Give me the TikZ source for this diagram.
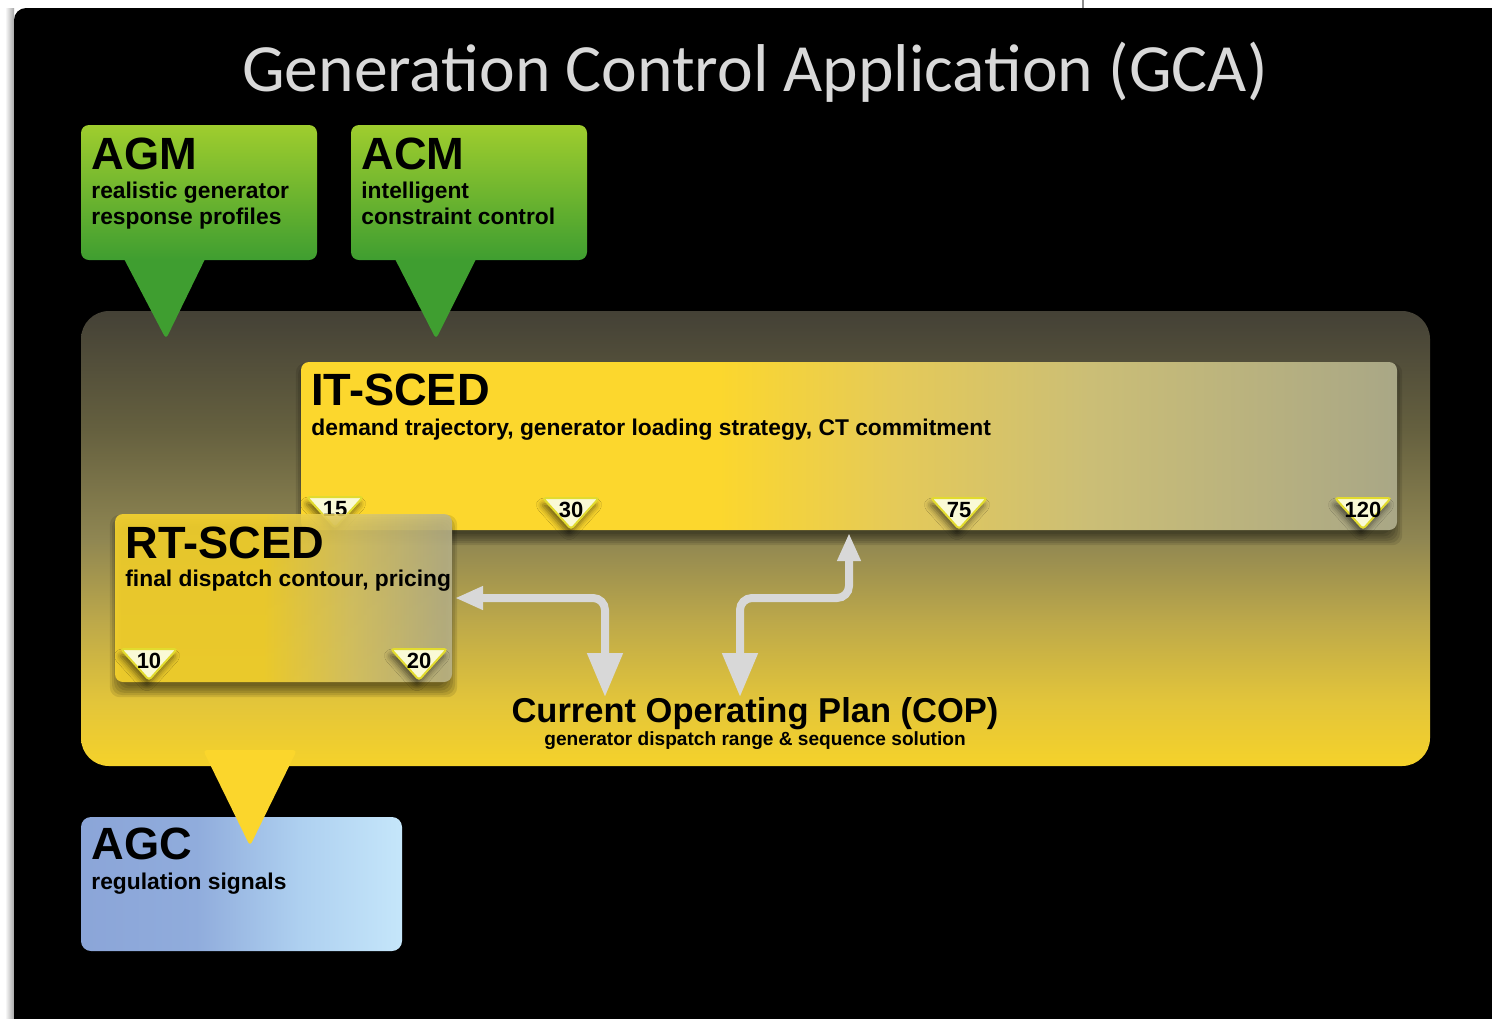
\documentclass[tikz,border=0pt]{standalone}
\usepackage{fontspec}
\setmainfont{Liberation Sans}
\newfontfamily\titlefont{Carlito}
\usetikzlibrary{arrows.meta,shadows.blur,calc}

\definecolor{titlegray}{HTML}{D9D9D9}
\definecolor{gTop}{HTML}{9FCD2E}
\definecolor{gBot}{HTML}{3F9E30}
\definecolor{bbA}{HTML}{F5D22A}
\definecolor{bbB}{HTML}{E3C53A}
\definecolor{bbC}{HTML}{BCA84A}
\definecolor{bbD}{HTML}{8F8652}
\definecolor{bbE}{HTML}{65603F}
\definecolor{bbF}{HTML}{444136}
\definecolor{itA}{HTML}{FCD72D}
\definecolor{itB}{HTML}{E5CA58}
\definecolor{itC}{HTML}{CBBE76}
\definecolor{itD}{HTML}{A9A786}
\definecolor{rtA}{HTML}{FCD82D}
\definecolor{rtB}{HTML}{DFCB66}
\definecolor{rtC}{HTML}{BBB58B}
\definecolor{agA}{HTML}{8BA5D8}
\definecolor{agB}{HTML}{90ACDC}
\definecolor{agC}{HTML}{AED0F0}
\definecolor{agD}{HTML}{C5E6FA}
\definecolor{ptrY}{HTML}{FBD62C}
\definecolor{mkFill}{HTML}{FAFAD6}
\definecolor{mkLine}{HTML}{E2DB2E}
\definecolor{arrGray}{HTML}{D8D8D8}

\pgfdeclareverticalshading{bigboxsh}{100bp}{color(0bp)=(bbA); color(25bp)=(bbA); color(32bp)=(bbB); color(41bp)=(bbC); color(50bp)=(bbD); color(62bp)=(bbE); color(75bp)=(bbF); color(100bp)=(bbF)}
\pgfdeclarehorizontalshading{itscedsh}{100bp}{color(0bp)=(itA); color(25bp)=(itA); color(44bp)=(itA); color(52bp)=(itB); color(61bp)=(itC); color(75bp)=(itD); color(100bp)=(itD)}
\pgfdeclarehorizontalshading{rtscedsh}{100bp}{color(0bp)=(rtA); color(25bp)=(rtA); color(47bp)=(rtA); color(60bp)=(rtB); color(75bp)=(rtC); color(100bp)=(rtC)}
\pgfdeclarehorizontalshading{agcsh}{100bp}{color(0bp)=(agA); color(25bp)=(agA); color(43bp)=(agB); color(59bp)=(agC); color(75bp)=(agD); color(100bp)=(agD)}

\tikzset{
  boxtitle/.style={anchor=base west, inner sep=0pt, font=\bfseries\fontsize{22.6}{26}\selectfont, text=black},
  boxsub/.style={anchor=base west, inner sep=0pt, font=\bfseries\fontsize{11.4}{13}\selectfont, text=black},
  mknum/.style={inner sep=0pt, font=\bfseries\fontsize{11}{13}\selectfont, text=black},
  mktri/.style={fill=mkFill, draw=mkLine, line width=1pt, rounded corners=1.5pt,
     blur shadow={shadow xshift=-1pt, shadow yshift=-3pt, shadow blur radius=3pt, shadow opacity=55}},
  softsh/.style={fill=black, opacity=0.1, rounded corners=5pt},
  arr/.style={draw=arrGray, line width=4pt, rounded corners=6pt},
  greenbox/.style={top color=gTop, bottom color=gBot, rounded corners=4pt},
}
% soft drop shadow: x1,y1,x2,y2 in px
\newcommand\softshadow[4]{%
  \foreach \s in {1,...,6} {
    \path[softsh] (#1+8-\s*2.2, #2+14-\s*2.2) rectangle (#3-8+\s*2.2, #4+2+\s*2.2);
  }}
\newcommand\mkr[4]{%
  \path[mktri] (#2-28,#3) -- (#2+28,#3) -- (#2,#3+31) -- cycle;
  \node[mknum] (#1) at (#2,#3+12) {#4};}

\begin{document}
\begin{tikzpicture}[x=0.5pt,y=-0.5pt]
\useasboundingbox (0,0) rectangle (1492,1018);
\clip (0,0) rectangle (1492,1018);
\fill[white] (0,0) rectangle (1492,1018);
\shade[left color=white, right color=black!35] (5,8) rectangle (14,1018);
\draw[black!45, line width=0.6pt] (1083,0) -- (1083,8);
\fill[black, rounded corners=6pt] (14,8) rectangle (1520,1040);

% title
\node[anchor=base, inner sep=0pt, text=titlegray, font=\titlefont\fontsize{33.8}{40}\selectfont] (title) at (755,91) {Generation Control Application (GCA)};

% big GCA box
\path[shading=bigboxsh, rounded corners=14pt] (81,311) rectangle (1430,766);

% AGM callout
\fill[gBot, rounded corners=2pt] (122,255) -- (207,255) -- (166,339) -- cycle;
\shade[greenbox] (81,125) rectangle (317,260);
\node[boxtitle] (agm) at (91,169) {AGM};
\node[boxsub] (agm1) at (91,198) {realistic generator};
\node[boxsub] (agm2) at (91,224) {response profiles};

% ACM callout
\fill[gBot, rounded corners=2pt] (393,255) -- (478,255) -- (436,339) -- cycle;
\shade[greenbox] (351,125) rectangle (587,260);
\node[boxtitle] (acm) at (361,169) {ACM};
\node[boxsub] (acm1) at (361,198) {intelligent};
\node[boxsub] (acm2) at (361,224) {constraint control};

% AGC box and pointer
\path[shading=agcsh, rounded corners=5pt] (81,817) rectangle (402,951);
\node[boxtitle] (agc) at (91,859) {AGC};
\node[boxsub] (agc1) at (91,889) {regulation signals};
\fill[ptrY, rounded corners=2pt] (203,750) -- (297,750) -- (250,846) -- cycle;

% IT-SCED
\softshadow{301}{362}{1397}{530}
\path[shading=itscedsh, rounded corners=4pt] (301,362) rectangle (1397,530);
\node[boxtitle] (itsced) at (311,405) {IT-SCED};
\node[boxsub] (itsub) at (311,435) {demand trajectory, generator loading strategy, CT commitment};
\mkr{m15}{335}{497}{15}
\mkr{m30}{571}{498}{30}
\mkr{m75}{959}{498}{75}
\mkr{m120}{1363}{498}{120}

% RT-SCED
\softshadow{115}{514}{452}{682}
\path[shading=rtscedsh, rounded corners=4pt, fill opacity=0.88] (115,514) rectangle (452,682);
\node[boxtitle] (rtsced) at (125,558) {RT-SCED};
\node[boxsub] (rtsub) at (125,586) {final dispatch contour, pricing};
\mkr{m10}{149}{649}{10}
\mkr{m20}{419}{649}{20}

% COP
\node[anchor=base, inner sep=0pt, font=\bfseries\fontsize{17.25}{20}\selectfont] (cop) at (755,722) {Current Operating Plan (COP)};
\node[anchor=base, inner sep=0pt, font=\bfseries\fontsize{9.55}{11}\selectfont] (copsub) at (755,745) {generator dispatch range \& sequence solution};

% arrows
\coordinate (rtE) at (455,598);
\coordinate (copL) at (605,697);
\coordinate (copR) at (740,697);
\coordinate (turn) at (849,598);
\coordinate (itB) at (849,533);
\draw[arr, {Triangle[length=14pt,width=11pt]}-{Triangle[length=22pt,width=17pt]}] (rtE) -| (copL);
\draw[arr, {Triangle[length=22pt,width=17pt]}-{Triangle[length=14pt,width=11pt]}] (copR) |- (turn) -- (itB);
\end{tikzpicture}
\end{document}
